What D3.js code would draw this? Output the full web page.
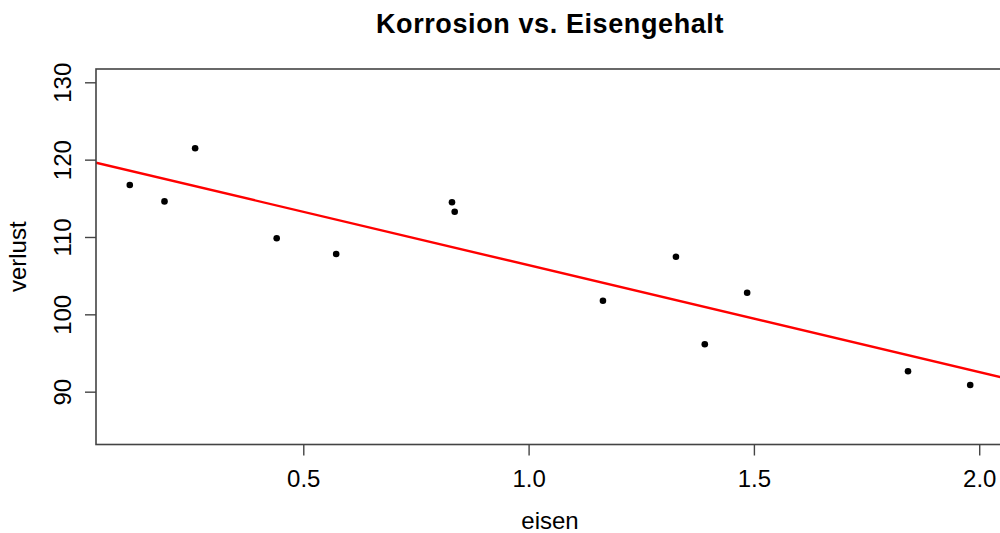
<!DOCTYPE html>
<html>
<head>
<meta charset="utf-8">
<script src="https://cdn.jsdelivr.net/npm/d3@7"></script>
<style>
  html, body { margin: 0; padding: 0; background: #fff; }
  svg { display: block; font-family: "Liberation Sans", Arial, Helvetica, sans-serif; }
</style>
</head>
<body>
<svg id="chart" width="1000" height="533"></svg>
<script>
// ---- data ----
const eisen   = [0.115, 0.192, 0.260, 0.441, 0.573, 0.830, 0.836, 1.165, 1.327, 1.391, 1.485, 1.842, 1.980];
const verlust = [116.72, 114.6, 121.47, 109.83, 107.8, 114.49, 113.27, 101.76, 107.45, 96.13, 102.8, 92.64, 90.87];
const fitIntercept = 120.16;
const fitSlope = -13.81;
const xTicks = [0.5, 1.0, 1.5, 2.0];
const yTicks = [90, 100, 110, 120, 130];
const xDomain = [0.040, 2.055];
const yDomain = [83.17, 131.72];
const titleText = "Korrosion vs. Eisengehalt";
const xLabel = "eisen";
const yLabel = "verlust";

// ---- layout ----
const svg = d3.select("#chart");
const L = 96, R = 1004, T = 69, B = 444.5;
const FONT = "'Liberation Sans', Arial, Helvetica, sans-serif";

const x = d3.scaleLinear().domain(xDomain).range([L, R]);
const y = d3.scaleLinear().domain(yDomain).range([B, T]);

svg.append("defs").append("clipPath").attr("id", "clip")
  .append("rect").attr("x", L).attr("y", T).attr("width", R - L).attr("height", B - T);

// regression line
const lineData = xDomain.map(v => ({ x: v, y: fitIntercept + fitSlope * v }));
svg.append("path")
  .datum(lineData)
  .attr("clip-path", "url(#clip)")
  .attr("fill", "none")
  .attr("stroke", "#ff0000")
  .attr("stroke-width", 2.4)
  .attr("d", d3.line().x(d => x(d.x)).y(d => y(d.y)));

// points
svg.append("g").selectAll("circle")
  .data(eisen.map((e, i) => ({ x: e, y: verlust[i] })))
  .join("circle")
  .attr("cx", d => x(d.x))
  .attr("cy", d => y(d.y))
  .attr("r", 3.3)
  .attr("fill", "#000");

// box
svg.append("rect")
  .attr("x", L).attr("y", T).attr("width", R - L).attr("height", B - T)
  .attr("fill", "none").attr("stroke", "#444").attr("stroke-width", 1.6);

// x axis
const gx = svg.append("g").attr("transform", `translate(0,${B})`)
  .call(d3.axisBottom(x).tickValues(xTicks).tickSize(11).tickFormat(d3.format(".1f")));
gx.select(".domain").remove();
gx.selectAll(".tick line").attr("stroke", "#444").attr("stroke-width", 1.4);
gx.selectAll(".tick text")
  .attr("y", 42.5).attr("dy", 0)
  .attr("fill", "#000")
  .style("font-size", "24px")
  .style("font-family", FONT);

// y axis
const gy = svg.append("g").attr("transform", `translate(${L},0)`)
  .call(d3.axisLeft(y).tickValues(yTicks).tickSize(11).tickFormat(d3.format("d")));
gy.select(".domain").remove();
gy.selectAll(".tick line").attr("stroke", "#444").attr("stroke-width", 1.4);
gy.selectAll(".tick text")
  .attr("transform", "rotate(-90)")
  .attr("x", 0).attr("y", -25).attr("dy", 0)
  .attr("text-anchor", "middle")
  .attr("fill", "#000")
  .style("font-size", "24px")
  .style("font-family", FONT);

// title
svg.append("text")
  .attr("x", (L + R) / 2).attr("y", 32.7)
  .attr("text-anchor", "middle")
  .attr("font-weight", "bold")
  .style("font-size", "27px")
  .style("letter-spacing", "0.6px")
  .attr("fill", "#000")
  .text(titleText);

// axis labels
svg.append("text")
  .attr("x", (L + R) / 2).attr("y", 529)
  .attr("text-anchor", "middle")
  .style("font-size", "24px")
  .attr("fill", "#000")
  .text(xLabel);

svg.append("text")
  .attr("transform", `translate(26,${(T + B) / 2}) rotate(-90)`)
  .attr("text-anchor", "middle")
  .style("font-size", "24px")
  .attr("fill", "#000")
  .text(yLabel);
</script>
</body>
</html>
